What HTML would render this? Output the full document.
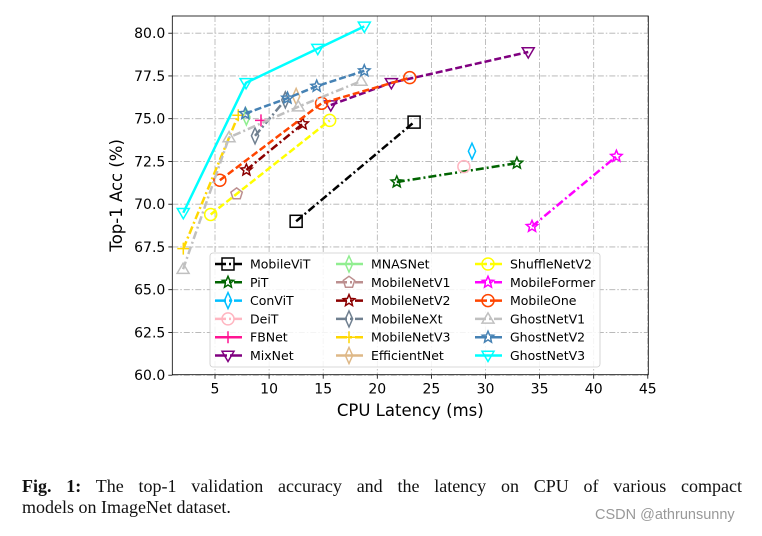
<!DOCTYPE html>
<html><head><meta charset="utf-8">
<style>
body{margin:0;background:#fff;width:762px;height:536px;overflow:hidden;position:relative;font-family:"DejaVu Sans","Liberation Sans",sans-serif}
#cap{position:absolute;left:22px;top:476px;width:720px;font-family:"Liberation Serif",serif;font-size:18px;line-height:21px;color:#111}
#cap .l1{text-align:justify;text-align-last:justify;display:block}
#wm{position:absolute;left:595px;top:507px;font-family:"Liberation Sans",sans-serif;font-size:14.5px;color:#999}
</style></head><body>
<svg id="chart" width="762" height="470" style="position:absolute;left:0;top:0"></svg>
<div id="cap"><span class="l1"><b>Fig. 1:</b> The top-1 validation accuracy and the latency on CPU of various compact</span><span>models on ImageNet dataset.</span></div>
<div id="wm">CSDN @athrunsunny</div>
<script>
const xTicks=[5,10,15,20,25,30,35,40,45];
const yTicks=[60.0,62.5,65.0,67.5,70.0,72.5,75.0,77.5,80.0];
const seriesNames=["MobileViT","PiT","ConViT","DeiT","FBNet","MixNet","MNASNet","MobileNetV1","MobileNetV2","MobileNeXt","MobileNetV3","EfficientNet","ShuffleNetV2","MobileFormer","MobileOne","GhostNetV1","GhostNetV2","GhostNetV3"];
const xMobileViT=[12.5,23.4], yMobileViT=[69.0,74.8];
const xPiT=[21.8,32.9], yPiT=[71.3,72.4];
const xConViT=[28.75], yConViT=[73.1];
const xDeiT=[28.0], yDeiT=[72.2];
const xFBNet=[9.25], yFBNet=[74.9];
const xMixNet=[15.7,21.3,33.95], yMixNet=[75.8,77.1,78.9];
const xMNASNet=[7.9], yMNASNet=[75.1];
const xMobileNetV1=[7.0], yMobileNetV1=[70.6];
const xMobileNetV2=[7.9,13.1], yMobileNetV2=[72.0,74.7];
const xMobileNeXt=[8.7,11.5], yMobileNeXt=[74.0,76.1];
const xMobileNetV3=[2.07,7.15], yMobileNetV3=[67.4,75.2];
const xEfficientNet=[12.5], yEfficientNet=[76.3];
const xShuffleNetV2=[4.6,15.6], yShuffleNetV2=[69.4,74.9];
const xMobileFormer=[34.3,42.1], yMobileFormer=[68.7,72.8];
const xMobileOne=[5.45,14.85,23.0], yMobileOne=[71.4,75.9,77.4];
const xGhostNetV1=[2.05,6.3,12.7,18.5], yGhostNetV1=[66.2,73.9,75.7,77.2];
const xGhostNetV2=[7.8,11.7,14.4,18.8], yGhostNetV2=[75.3,76.2,76.9,77.8];
const xGhostNetV3=[2.07,7.87,14.5,18.8], yGhostNetV3=[69.5,77.1,79.1,80.4];
const X={MobileViT:xMobileViT,PiT:xPiT,ConViT:xConViT,DeiT:xDeiT,FBNet:xFBNet,MixNet:xMixNet,MNASNet:xMNASNet,MobileNetV1:xMobileNetV1,MobileNetV2:xMobileNetV2,MobileNeXt:xMobileNeXt,MobileNetV3:xMobileNetV3,EfficientNet:xEfficientNet,ShuffleNetV2:xShuffleNetV2,MobileFormer:xMobileFormer,MobileOne:xMobileOne,GhostNetV1:xGhostNetV1,GhostNetV2:xGhostNetV2,GhostNetV3:xGhostNetV3};
const Y={MobileViT:yMobileViT,PiT:yPiT,ConViT:yConViT,DeiT:yDeiT,FBNet:yFBNet,MixNet:yMixNet,MNASNet:yMNASNet,MobileNetV1:yMobileNetV1,MobileNetV2:yMobileNetV2,MobileNeXt:yMobileNeXt,MobileNetV3:yMobileNetV3,EfficientNet:yEfficientNet,ShuffleNetV2:yShuffleNetV2,MobileFormer:yMobileFormer,MobileOne:yMobileOne,GhostNetV1:yGhostNetV1,GhostNetV2:yGhostNetV2,GhostNetV3:yGhostNetV3};
const STY={
MobileViT:["#000","dd","sq"],PiT:["#006400","dd","star"],ConViT:["#00bfff","dd","dia"],DeiT:["#ffb6c1","dd","circ"],
FBNet:["#ff1493","s","plus"],MixNet:["#800080","d","tri"],MNASNet:["#90ee90","s","dia"],MobileNetV1:["#bc8f8f","dd","pent"],
MobileNetV2:["#8b0000","dd","star"],MobileNeXt:["#708090","dd","dia"],MobileNetV3:["#ffd700","dd","plus"],EfficientNet:["#deb887","s","dia"],
ShuffleNetV2:["#ffff00","d","circ"],MobileFormer:["#ff00ff","dd","star"],MobileOne:["#ff4500","d","circ"],GhostNetV1:["#c0c0c0","dd","triu"],
GhostNetV2:["#4682b4","d","star"],GhostNetV3:["#00ffff","s","tri"]};
const NS="http://www.w3.org/2000/svg";
const svg=document.getElementById('chart');
const L=172.3,R=648.3,T=16,B=374.7;
const sx=v=>160.9+v*10.82;
const sy=v=>33.2+(80-v)*17.1;
function mk(t,a,p){const e=document.createElementNS(NS,t);for(const k in a)e.setAttribute(k,a[k]);(p||svg).appendChild(e);return e;}
const dash={s:"",d:"7,3",dd:"8,3,2,3"};
function marker(type,x,y,c,g){
  const r=6;let e;
  if(type==="sq")e=mk("rect",{x:x-r,y:y-r,width:2*r,height:2*r,fill:"none",stroke:c,"stroke-width":1.5},g);
  else if(type==="circ")e=mk("circle",{cx:x,cy:y,r:r,fill:"none",stroke:c,"stroke-width":1.5},g);
  else if(type==="dia")e=mk("polygon",{points:`${x},${y-r-2} ${x+r*0.6},${y} ${x},${y+r+2} ${x-r*0.6},${y}`,fill:"none",stroke:c,"stroke-width":1.5},g);
  else if(type==="tri")e=mk("polygon",{points:`${x-r},${y-r*0.7} ${x+r},${y-r*0.7} ${x},${y+r}`,fill:"none",stroke:c,"stroke-width":1.5},g);
  else if(type==="triu")e=mk("polygon",{points:`${x-r},${y+r*0.7} ${x+r},${y+r*0.7} ${x},${y-r}`,fill:"none",stroke:c,"stroke-width":1.5},g);
  else if(type==="plus")e=mk("path",{d:`M${x-r} ${y}H${x+r}M${x} ${y-r}V${y+r}`,stroke:c,"stroke-width":1.5},g);
  else if(type==="pent"){let p=[];for(let i=0;i<5;i++){const a=-Math.PI/2+i*2*Math.PI/5;p.push((x+r*Math.cos(a)).toFixed(1)+","+(y+r*Math.sin(a)).toFixed(1));}e=mk("polygon",{points:p.join(" "),fill:"none",stroke:c,"stroke-width":1.5},g);}
  else if(type==="star"){let p=[];for(let i=0;i<10;i++){const a=-Math.PI/2+i*Math.PI/5,rr=i%2?r*0.45:r;p.push((x+rr*Math.cos(a)).toFixed(1)+","+(y+rr*Math.sin(a)).toFixed(1));}e=mk("polygon",{points:p.join(" "),fill:"none",stroke:c,"stroke-width":1.5},g);}
  return e;
}
const grid=mk("g",{});


xTicks.forEach(t=>{mk("line",{x1:sx(t),x2:sx(t),y1:T,y2:B,stroke:"#b0b0b0","stroke-width":0.8,"stroke-dasharray":"6,2,1.5,2"},grid);});
yTicks.forEach(t=>{mk("line",{x1:L,x2:R,y1:sy(t),y2:sy(t),stroke:"#b0b0b0","stroke-width":0.8,"stroke-dasharray":"6,2,1.5,2"},grid);});
xTicks.forEach(t=>{mk("line",{x1:sx(t),x2:sx(t),y1:B,y2:B+4,stroke:"#000","stroke-width":0.8});
 const tx=mk("text",{x:sx(t),y:B+19,"text-anchor":"middle","font-size":14,fill:"#000"});tx.textContent=t;
 });
yTicks.forEach(t=>{mk("line",{x1:L-4,x2:L,y1:sy(t),y2:sy(t),stroke:"#000","stroke-width":0.8});
 const tx=mk("text",{x:L-7,y:sy(t)+5,"text-anchor":"end","font-size":14,fill:"#000"});tx.textContent=t.toFixed(1);
 });
const xt=mk("text",{x:(L+R)/2,y:416,"text-anchor":"middle","font-size":16.5});xt.textContent="CPU Latency (ms)";

const yt=mk("text",{x:0,y:0,"text-anchor":"middle","font-size":16.5,transform:`translate(122,${(T+B)/2}) rotate(-90)`});yt.textContent="Top-1 Acc (%)";

seriesNames.forEach(n=>{
  const [c,ls,m]=STY[n];const g=mk("g",{});
  
  
  const xs=X[n],ys=Y[n];
  if(xs.length>1){const pts=xs.map((v,i)=>sx(v)+","+sy(ys[i])).join(" ");
    const a={points:pts,fill:"none",stroke:c,"stroke-width":2.5};if(dash[ls])a["stroke-dasharray"]=dash[ls];mk("polyline",a,g);}
  xs.forEach((v,i)=>{const p=marker(m,sx(v),sy(ys[i]),c,g);
    
    });
});
const fr=mk("rect",{x:L,y:T,width:R-L,height:B-T,fill:"none",stroke:"#000","stroke-width":0.8});

const lg=mk("g",{});


mk("rect",{x:210,y:253,width:390,height:114,rx:3,fill:"rgba(255,255,255,0.85)",stroke:"#ccc","stroke-width":0.8},lg);
const colX=[215,336,475];
seriesNames.forEach((n,i)=>{
  const col=Math.floor(i/6),row=i%6;const x=colX[col],y=264+row*18.3;const [c,ls,m]=STY[n];
  const e=mk("g",{},lg);
  
  
  const a={x1:x,x2:x+27,y1:y,y2:y,stroke:c,"stroke-width":2.5};if(dash[ls])a["stroke-dasharray"]=ls==="dd"?"11,3,2,3":"12,3";
  mk("line",a,e);marker(m,x+13,y,c,e);
  const t=mk("text",{x:x+35,y:y+4.5,"font-size":12.5,fill:"#000"},e);t.textContent=n;
});
</script>
</body></html>
